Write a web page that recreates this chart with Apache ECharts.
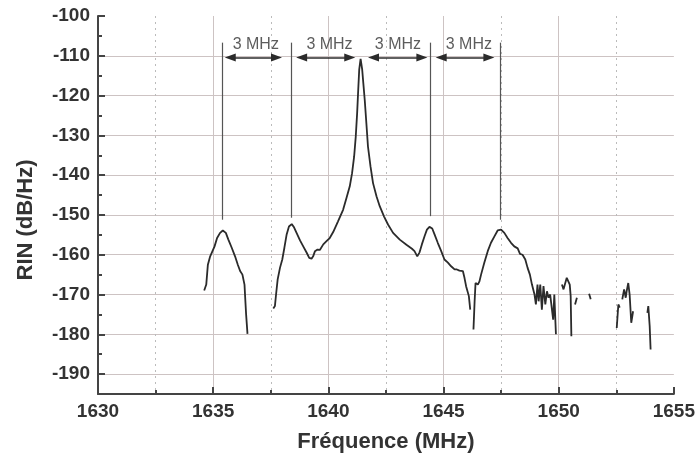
<!DOCTYPE html>
<html>
<head>
<meta charset="utf-8">
<script src="https://cdn.jsdelivr.net/npm/echarts@6/dist/echarts.min.js"></script>
<style>
    html, body { margin: 0; padding: 0; background: #fff; }
    #chart { width: 698px; height: 461px; }
</style>
</head>
<body>
<div id="chart"></div>
<script>
//频谱数据（分段，[频率 MHz, RIN dB/Hz]）
var seg1 = [[1634.61,-169.0],[1634.70,-167.5],[1634.77,-162.5],[1634.87,-160.4],[1634.97,-159.1],[1635.06,-157.9],[1635.17,-155.8],[1635.30,-154.5],[1635.42,-153.9],[1635.55,-154.5],[1635.66,-156.2],[1635.81,-158.3],[1635.95,-160.4],[1636.07,-162.5],[1636.17,-164.1],[1636.27,-165.0],[1636.36,-167.5],[1636.39,-170.8],[1636.43,-175.0],[1636.49,-179.9]];
var seg2 = [[1637.61,-173.5],[1637.68,-172.9],[1637.73,-170.0],[1637.80,-166.2],[1637.90,-163.3],[1638.00,-161.2],[1638.09,-158.3],[1638.19,-154.9],[1638.29,-152.9],[1638.41,-152.3],[1638.51,-153.1],[1638.62,-154.5],[1638.77,-156.4],[1638.91,-157.9],[1639.06,-159.5],[1639.17,-160.8],[1639.27,-161.0],[1639.34,-160.4],[1639.42,-159.1],[1639.53,-158.7],[1639.63,-158.8],[1639.78,-157.4],[1639.92,-156.6],[1640.06,-155.8],[1640.21,-154.3],[1640.42,-151.6],[1640.64,-148.7],[1640.79,-145.7],[1640.93,-142.8],[1641.03,-139.5],[1641.12,-135.3],[1641.19,-130.3],[1641.25,-124.4],[1641.29,-119.4],[1641.34,-113.5],[1641.40,-110.8],[1641.47,-113.5],[1641.52,-117.0],[1641.58,-121.1],[1641.65,-126.9],[1641.72,-132.8],[1641.83,-137.8],[1641.94,-142.0],[1642.09,-145.3],[1642.23,-147.8],[1642.42,-150.4],[1642.59,-152.4],[1642.81,-154.5],[1643.10,-156.2],[1643.39,-157.5],[1643.63,-158.5],[1643.74,-159.1],[1643.86,-160.4],[1643.96,-159.4],[1644.06,-157.4],[1644.18,-155.3],[1644.28,-153.7],[1644.39,-153.0],[1644.51,-153.4],[1644.61,-154.9],[1644.75,-157.0],[1644.90,-159.1],[1645.04,-161.2],[1645.19,-162.0],[1645.33,-162.9],[1645.48,-163.7],[1645.58,-163.7],[1645.69,-164.0],[1645.84,-164.1],[1645.91,-165.8],[1645.98,-167.9],[1646.10,-170.4],[1646.16,-173.8]];
var seg3 = [[1646.30,-178.8],[1646.35,-171.7],[1646.39,-167.1],[1646.49,-167.5],[1646.56,-166.7],[1646.63,-165.0],[1646.77,-162.0],[1646.92,-159.1],[1647.06,-157.0],[1647.21,-155.4],[1647.35,-153.9],[1647.50,-153.7],[1647.64,-154.5],[1647.78,-155.8],[1647.93,-157.0],[1648.07,-157.9],[1648.22,-158.4],[1648.32,-159.8],[1648.43,-160.0],[1648.55,-161.2],[1648.65,-163.3],[1648.75,-165.0],[1648.84,-167.5],[1648.90,-167.9],[1648.95,-170.0],[1649.01,-172.5],[1649.08,-167.5],[1649.13,-171.7],[1649.20,-167.5],[1649.27,-173.8],[1649.34,-167.9],[1649.42,-172.5],[1649.49,-169.2],[1649.56,-170.8],[1649.63,-170.0],[1649.71,-170.4],[1649.76,-176.3],[1649.81,-170.0],[1649.88,-180.0]];
var seg4 = [[1650.14,-167.5],[1650.21,-168.7],[1650.28,-168.6],[1650.35,-165.8],[1650.41,-165.4],[1650.48,-167.5],[1650.52,-170.4],[1650.55,-180.5]];
var seg5 = [[1650.71,-172.5],[1650.79,-170.8]];
var seg6 = [[1651.32,-169.8],[1651.39,-171.2]];
var seg7 = [[1652.52,-178.4],[1652.59,-172.5],[1652.65,-173.3]];
var seg8 = [[1652.76,-171.2],[1652.84,-168.7],[1652.91,-170.8],[1652.95,-169.2],[1653.02,-167.1],[1653.08,-170.0],[1653.15,-177.1],[1653.23,-174.2]];
var seg9 = [[1653.85,-174.6],[1653.89,-172.9],[1653.95,-177.9],[1653.99,-183.8]];
var segments = [seg1, seg2, seg3, seg4, seg5, seg6, seg7, seg8, seg9];

//标注：竖线位置、箭头端点、文字
var markerFreqs = [1635.38, 1638.39, 1644.42, 1647.47];
var markerBottoms = [-151.2, -150.7, -150.3, -151.2];
var markerTop = -106.7;
var arrowSpans = [[1635.74, 1637.75], [1638.84, 1640.93], [1641.96, 1644.06], [1644.90, 1646.97]];
var arrowLevel = -110.4;
var labelFreqs = [1636.85, 1640.05, 1643.02, 1646.10];
var labelLevel = -107.3;
var labelText = "3 MHz";

var chart = echarts.init(document.getElementById("chart"));

var FONT = "Liberation Sans, Arial, Helvetica, sans-serif";
var AXIS_COLOR = "#444";
var GRID_COLOR = "#cdc3c3";

var series = segments.map(function (seg) {
    return {
        type: "line",
        data: seg,
        showSymbol: false,
        symbol: "none",
        lineStyle: { color: "#2b2b2b", width: 1.8 },
        silent: true,
        z: 3
    };
});

//竖线
series.push({
    type: "line",
    data: [],
    silent: true,
    markLine: {
        silent: true,
        symbol: ["none", "none"],
        label: { show: false },
        lineStyle: { color: "#555", width: 1.2, type: "solid" },
        emphasis: { disabled: true },
        animation: false,
        data: markerFreqs.map(function (f, i) {
            return [{ coord: [f, markerTop] }, { coord: [f, markerBottoms[i]] }];
        })
    }
});

//双向箭头
series.push({
    type: "line",
    data: [],
    silent: true,
    markLine: {
        silent: true,
        symbol: ["triangle", "triangle"],
        symbolSize: [8, 11],
        label: { show: false },
        lineStyle: { color: "#2b2b2b", width: 1.6, type: "solid" },
        emphasis: { disabled: true },
        animation: false,
        data: arrowSpans.map(function (s) {
            return [{ coord: [s[0], arrowLevel] }, { coord: [s[1], arrowLevel] }];
        })
    }
});

//文字 "3 MHz"
series.push({
    type: "scatter",
    symbolSize: 0,
    silent: true,
    data: labelFreqs.map(function (f) { return [f, labelLevel]; }),
    label: {
        show: true,
        position: "inside",
        formatter: labelText,
        color: "#333",
        fontSize: 16,
        fontFamily: FONT
    },
    z: 4
});

var option = {
    animation: false,
    backgroundColor: "#fff",
    grid: { left: 98, right: 23, top: 16, bottom: 67 },
    xAxis: {
        type: "value",
        min: 1630,
        max: 1655,
        interval: 5,
        name: "Fréquence (MHz)",
        nameLocation: "middle",
        nameGap: 37,
        nameTextStyle: { fontFamily: FONT, fontSize: 22, fontWeight: "bold", color: "#333" },
        axisLine: { show: true, onZero: false, lineStyle: { color: AXIS_COLOR, width: 2 } },
        axisTick: { show: true, inside: true, length: 7, lineStyle: { color: AXIS_COLOR, width: 2 } },
        minorTick: { show: true, splitNumber: 2, length: 4, lineStyle: { color: AXIS_COLOR, width: 2 } },
        axisLabel: {
            fontFamily: FONT, fontSize: 19, fontWeight: "bold", color: "#333", margin: 8,
            formatter: function (v) { return String(v); }
        },
        splitLine: { show: true, showMinLine: false, showMaxLine: false, lineStyle: { color: GRID_COLOR, width: 1 } },
        minorSplitLine: { show: true, lineStyle: { color: "#bbb", width: 1, type: [2, 4] } }
    },
    yAxis: {
        type: "value",
        min: -195,
        max: -100,
        minInterval: 10,
        maxInterval: 10,
        name: "RIN (dB/Hz)",
        nameLocation: "middle",
        nameGap: 61,
        nameTextStyle: { fontFamily: FONT, fontSize: 22, fontWeight: "bold", color: "#333", padding: [0, 30, 0, 0] },
        axisLine: { show: true, onZero: false, lineStyle: { color: AXIS_COLOR, width: 2 } },
        axisTick: { show: true, inside: true, length: 7, lineStyle: { color: AXIS_COLOR, width: 2 } },
        minorTick: { show: true, splitNumber: 2, length: 4, lineStyle: { color: AXIS_COLOR, width: 2 } },
        axisLabel: {
            fontFamily: FONT, fontSize: 19, fontWeight: "bold", color: "#333", margin: 8,
            formatter: function (v) { return v % 10 === 0 ? String(v) : ""; }
        },
        splitLine: { show: true, showMinLine: false, showMaxLine: false, lineStyle: { color: GRID_COLOR, width: 1 } }
    },
    series: series
};

chart.setOption(option);
</script>
</body>
</html>
